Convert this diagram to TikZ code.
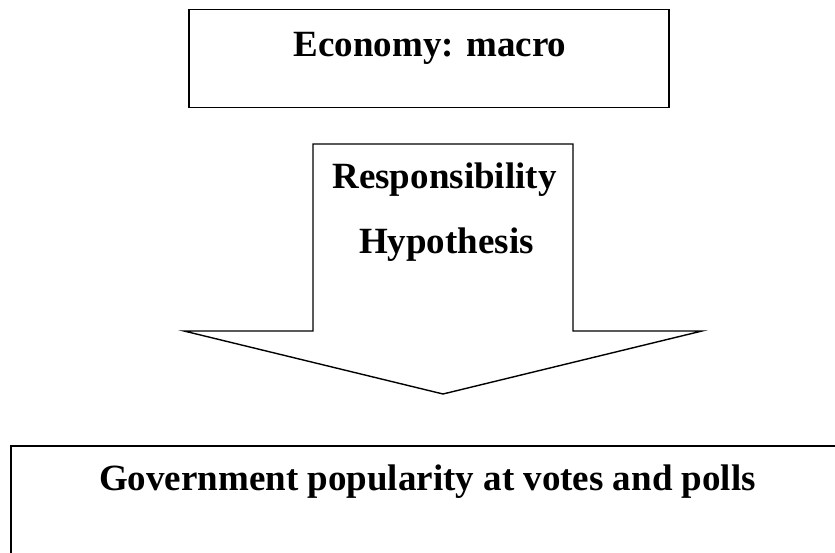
\documentclass[tikz,border=0pt]{standalone}
\usepackage{fontspec}
\setmainfont{Liberation Serif}
\usepackage{tikz}
\usetikzlibrary{positioning,calc}

\begin{document}
\begin{tikzpicture}[
  x=1pt, y=-1pt,
  boxed/.style={draw, rectangle, line width=1.6pt, inner sep=0pt},
  lbl/.style={font=\bfseries\fontsize{37}{44}\selectfont, inner sep=0pt, anchor=base},
  bigarrow/.style={draw, line width=1.4pt, line join=miter}
]
\useasboundingbox (0,0) rectangle (835,553);
\clip (0,0) rectangle (835,553);
% top box
\node[boxed, minimum width=480pt, minimum height=98pt] (econ) at (429,58.5) {};
\node[lbl] (econtxt) at (430,56.5) {Economy: macro};
% block arrow
\coordinate (shaftL) at (313,144);
\coordinate (shaftR) at (573,144);
\coordinate (tip) at (443,394);
\draw[bigarrow] (shaftL) -- (shaftR) -- (573,331) -- (702,331) -- (tip)
  -- (184,331) -- (shaftL |- 0,331) -- cycle;
\node[lbl] (resp) at (444.5,189) {Responsibility};
\node[lbl] (hyp) at (446.5,254) {Hypothesis};
% bottom box
\node[boxed, minimum width=840pt, minimum height=160pt, anchor=north west] (gov) at (10,445) {};
\node[lbl] (govtxt) at (427.5,490) {Government popularity at votes and polls};
\end{tikzpicture}
\end{document}
